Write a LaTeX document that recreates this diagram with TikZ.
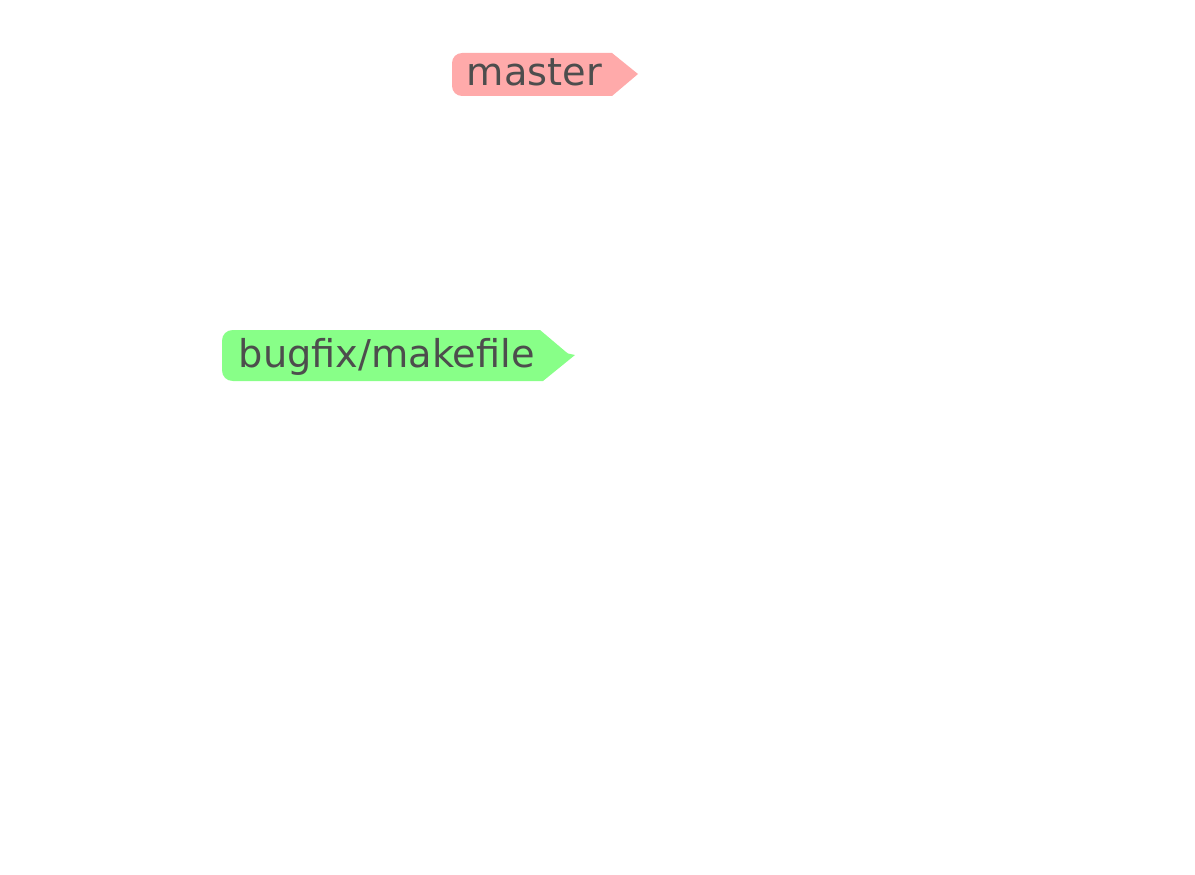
\documentclass[tikz,border=0pt]{standalone}
\usepackage{fontspec}
\setmainfont{DejaVu Sans}
\definecolor{masterfill}{HTML}{FFAAAA}
\definecolor{bugfill}{HTML}{88FF88}
\definecolor{tagtext}{HTML}{4D4D4D}
\tikzset{
  tagtext/.style={anchor=base west, inner sep=0pt, text=tagtext, font=\fontsize{38.3}{40}\selectfont}
}
\begin{document}
\begin{tikzpicture}[x=1pt,y=-1pt]
\useasboundingbox[fill=white] (0,0) rectangle (1195,875);
% master tag
\fill[masterfill] (612,53) -- (462,53) .. controls (456.5,53) and (452,57.5) .. (452,63) -- (452,86)
  .. controls (452,91.5) and (456.5,96) .. (462,96) -- (612,96) -- (638,74) -- cycle;
\node[tagtext] (master) at (466.5,85) {master};
% bugfix tag
\fill[bugfill] (540,330) -- (233,330) .. controls (226.5,330) and (222,334.5) .. (222,341) -- (222,370)
  .. controls (222,376.5) and (226.5,381) .. (233,381) -- (543,381) -- (575,355) -- (568,353.5) -- (566,352) -- cycle;
\node[tagtext] (bugfix) at (238.5,367) {bugfix/makefile};
\end{tikzpicture}
\end{document}
